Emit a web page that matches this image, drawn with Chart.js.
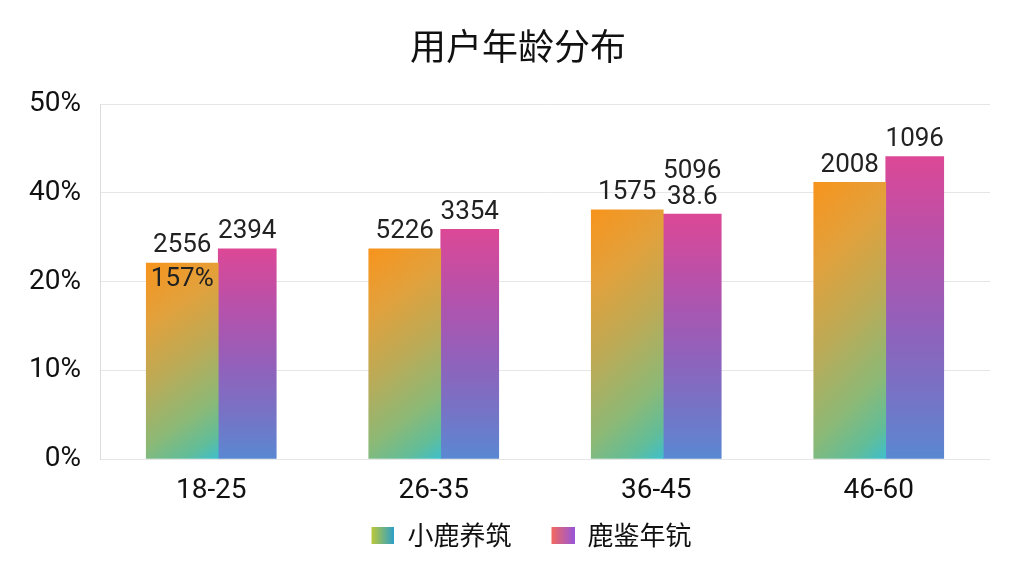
<!DOCTYPE html>
<html><head><meta charset="utf-8">
<script src="https://cdn.jsdelivr.net/npm/chart.js@4/dist/chart.umd.min.js"></script>
<style>html,body{margin:0;padding:0;background:#fff;}#wrap{width:1024px;height:576px;position:relative;}</style>
</head><body><div id="wrap"><canvas id="c"></canvas></div>
<script>
const chartTitle = '用户年龄分布';
const categories = ['18-25', '26-35', '36-45', '46-60'];
const seriesNames = ['小鹿养筑', '鹿鉴年钪'];
const seriesA = [22.1, 23.7, 28.1, 31.2];
const seriesB = [23.7, 25.9, 27.6, 34.1];
const yTickLabels = ['0%', '10%', '20%', '40%', '50%'];
const labelsA = ['2556', '5226', '1575', '2008'];
const labelsAInner = ['157%', '', '', ''];
const labelsB = ['2394', '3354', '38.6', '1096'];
const labelsBExtra = ['', '', '5096', ''];

const THICK = [72, 58];
const BAR_SHIFT = 7;
const NUM_FONT = 'Roboto, "Noto Sans CJK SC", sans-serif';
const CJK_FONT = '"Noto Sans CJK SC", Roboto, sans-serif';

const stopsA = [[0, '#f7941d'], [0.25, '#e2a13c'], [0.5, '#bcaa56'], [0.75, '#8cb976'], [0.9, '#62bd98'], [1, '#3ebfcc']];
const stopsB = [[0, '#dc4896'], [0.3, '#b452ac'], [0.55, '#9360ba'], [0.8, '#7574c6'], [1, '#5a88d2']];

function barFill(stops, tiltU) {
  return function (context) {
    const chart = context.chart;
    if (!chart.chartArea || context.type !== 'data' || !context.parsed) return stops[0][1];
    const xs = chart.scales.x, ys = chart.scales.y;
    const c = xs.getPixelForValue(context.dataIndex);
    const w = THICK[context.datasetIndex];
    const xl = context.datasetIndex === 0 ? c - w : c;
    const yt = ys.getPixelForValue(context.parsed.y);
    const yb = ys.getPixelForValue(0);
    const h = Math.max(1, yb - yt);
    const gx = tiltU / w, gy = (1 - tiltU) / h;
    const n = gx * gx + gy * gy;
    const g = chart.ctx.createLinearGradient(xl, yt, xl + gx / n, yt + gy / n);
    stops.forEach(s => g.addColorStop(s[0], s[1]));
    return g;
  };
}

function swatch(c1, c2) {
  const cv = document.createElement('canvas');
  cv.width = 50; cv.height = 17;
  const x = cv.getContext('2d');
  const g = x.createLinearGradient(27, 0, 50, 0);
  g.addColorStop(0, c1); g.addColorStop(1, c2);
  x.fillStyle = g;
  x.fillRect(27, 0, 23, 17);
  return cv;
}
const swatches = [swatch('#bcc83a', '#2a9fcc'), swatch('#f26a5e', '#9856d8')];

const labelPlugin = {
  id: 'barLabels',
  beforeDatasetsDraw(chart) {
    chart.ctx.save();
    chart.ctx.translate(BAR_SHIFT, 0);
  },
  afterDatasetsDraw(chart) {
    const ctx = chart.ctx;
    ctx.font = '26px ' + NUM_FONT;
    ctx.fillStyle = '#222';
    ctx.textAlign = 'center';
    ctx.textBaseline = 'middle';
    const sets = [[labelsA, labelsAInner, 17], [labelsB, labelsBExtra, -43]];
    sets.forEach((s, di) => {
      const meta = chart.getDatasetMeta(di);
      meta.data.forEach((el, i) => {
        if (s[0][i]) ctx.fillText(s[0][i], el.x, el.y - 17);
        if (s[1][i]) ctx.fillText(s[1][i], el.x, el.y + s[2]);
      });
    });
    ctx.restore();
  }
};

new Chart(document.getElementById('c'), {
  type: 'bar',
  data: {
    labels: categories,
    datasets: [
      { label: seriesNames[0], data: seriesA, barThickness: THICK[0], backgroundColor: barFill(stopsA, 0.2), borderWidth: 0 },
      { label: seriesNames[1], data: seriesB, barThickness: THICK[1], backgroundColor: barFill(stopsB, 0.0), borderWidth: 0 }
    ]
  },
  options: {
    responsive: true,
    maintainAspectRatio: false,
    animation: false,
    layout: { padding: { top: 15, left: 46, right: 34, bottom: 18 } },
    plugins: {
      title: {
        display: true, text: chartTitle, color: '#111',
        font: { family: CJK_FONT, size: 36, weight: 'normal' },
        padding: { top: 10, bottom: 36 }
      },
      legend: {
        position: 'bottom',
        labels: {
          usePointStyle: true, pointStyleWidth: 50, boxHeight: 17, padding: 13,
          color: '#111', font: { family: CJK_FONT, size: 26 },
          generateLabels: (chart) => seriesNames.map((n, i) => ({
            text: n, pointStyle: swatches[i], datasetIndex: i, hidden: false,
            fillStyle: 'transparent', strokeStyle: 'transparent', lineWidth: 0, fontColor: '#111'
          }))
        }
      },
      tooltip: { enabled: false }
    },
    scales: {
      x: {
        grid: { display: false }, border: { display: false },
        ticks: { color: '#111', font: { family: NUM_FONT, size: 28 }, padding: 7 },
        afterFit(s) { s.height = 50; }
      },
      y: {
        min: 0, max: 40,
        grid: { color: '#e6e6e6', drawTicks: false },
        border: { color: '#dcdcdc' },
        ticks: {
          stepSize: 10, padding: 19, color: '#111',
          font: { family: NUM_FONT, size: 28 },
          callback: (v, i) => yTickLabels[i]
        },
        afterFit(s) {
          s.width = 54;
          s._computeLabelArea = () => undefined;
        }
      }
    }
  },
  plugins: [labelPlugin]
});
</script>
</body></html>
